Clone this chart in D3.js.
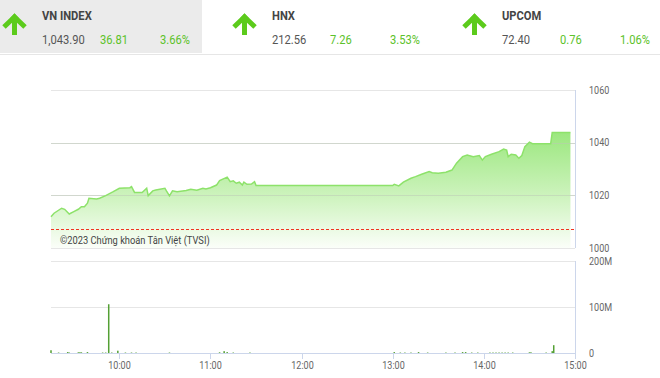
<!DOCTYPE html>
<html>
<head>
<meta charset="utf-8">
<script src="https://cdn.jsdelivr.net/npm/d3@7"></script>
<style>
  body { margin: 0; background: #fff; }
  svg { display: block; font-family: Roboto, sans-serif; }
</style>
</head>
<body>
<script>
// header tiles
const indexNames = ['VN INDEX', 'HNX', 'UPCOM'];
const indexValues = ['1,043.90', '212.56', '72.40'];
const indexChanges = ['36.81', '7.26', '0.76'];
const indexPercents = ['3.66%', '3.53%', '1.06%'];

// intraday VN-Index
const priceTimes = ['9:15', '9:17', '9:22', '9:24', '9:27', '9:30', '9:33', '9:35', '9:37', '9:39',
  '9:40', '9:45', '9:47', '9:51', '9:56', '10:00', '10:07', '10:08', '10:10', '10:15',
  '10:18', '10:19', '10:22', '10:24', '10:30', '10:31', '10:33', '10:35', '10:38', '10:44',
  '10:47', '10:51', '10:55', '10:57', '11:00', '11:04', '11:06', '11:11', '11:13', '11:15',
  '11:17', '11:19', '11:21', '11:22', '11:24', '11:27', '11:29', '11:30',
  '13:00', '13:01', '13:04', '13:07', '13:12', '13:15', '13:19', '13:24', '13:26', '13:30',
  '13:35', '13:39', '13:42', '13:46', '13:49', '13:53', '13:57', '13:59', '14:01', '14:05',
  '14:10', '14:13', '14:15', '14:16', '14:18', '14:21', '14:23', '14:25', '14:27', '14:30',
  '14:32', '14:44', '14:45', '14:57'];
const priceValues = [1011.9, 1013.2, 1015.1, 1014.7, 1012.9, 1013.8, 1014.7, 1015.7, 1015.7, 1017.0,
  1018.9, 1018.6, 1018.9, 1019.9, 1021.4, 1022.7, 1022.9, 1023.3, 1021.1, 1021.1,
  1022.7, 1019.9, 1021.7, 1022.0, 1022.7, 1021.7, 1019.8, 1021.7, 1021.4, 1021.8,
  1022.3, 1021.9, 1022.7, 1022.4, 1022.9, 1023.9, 1025.6, 1026.9, 1025.2, 1025.5,
  1024.6, 1025.0, 1023.9, 1025.0, 1024.2, 1024.3, 1025.2, 1023.7,
  1023.7, 1024.2, 1023.6, 1025.0, 1026.5, 1027.1, 1028.0, 1029.0, 1028.6, 1028.4,
  1028.8, 1029.6, 1032.2, 1034.7, 1035.3, 1034.7, 1035.1, 1033.4, 1034.7, 1035.6,
  1036.6, 1037.6, 1037.2, 1034.7, 1035.6, 1035.3, 1034.1, 1035.1, 1038.5, 1040.2,
  1039.6, 1039.6, 1043.9, 1043.9];
const referencePrice = 1007.09;

// matched volume per minute
const volTimes = ['9:15', '9:20', '9:26', '9:27', '9:33', '9:34', '9:35', '9:39', '9:49', '9:51',
  '9:53', '9:55', '9:59', '10:04', '10:08', '10:11', '10:33', '11:06', '11:09', '11:11',
  '11:15', '11:26', '13:01', '13:05', '13:08', '13:12', '13:17', '13:23', '13:35', '13:41',
  '13:46', '13:48', '13:52', '13:56', '14:04', '14:06', '14:08', '14:10', '14:12', '14:14',
  '14:16', '14:19', '14:30', '14:31', '14:41', '14:45', '14:46'];
const volValues = [6, 1, 2, 1, 1.5, 1.5, 1.5, 2, 1, 1,
  106, 1, 5, 1, 1, 1, 1, 1.5, 4, 2,
  1, 1, 2, 1, 1, 1, 2, 1, 1, 1,
  2, 2, 1, 1, 1, 1, 1, 1, 1, 1,
  1, 1, 1.5, 1.5, 1, 4, 17].map(v => v * 1e6);

const priceTicks = [1000, 1020, 1040, 1060];
const volTicks = [0, 100e6, 200e6];
const volTickLabels = ['0', '100M', '200M'];
const hourTicks = ['10:00', '11:00', '12:00', '13:00', '14:00', '15:00'];

const width = 660, height = 378;
const parse = d3.timeParse('%H:%M');
const SX = 0.86; // narrow the glyphs a little, like a condensed face

const svg = d3.select('body').append('svg')
  .attr('width', width).attr('height', height);

function label(g, x, y, str, o = {}) {
  return g.append('text')
    .attr('transform', `translate(${x},${y}) scale(${o.sx || SX},1)`)
    .attr('dominant-baseline', 'middle')
    .attr('text-anchor', o.anchor || 'start')
    .attr('font-size', o.size || 10)
    .attr('font-weight', o.weight || 'normal')
    .attr('fill', o.fill || '#666')
    .text(str);
}

// ---- header ----
svg.append('rect').attr('x', 0).attr('y', 0).attr('width', 202).attr('height', 53).attr('fill', '#ebebeb');
svg.append('line').attr('x1', 0).attr('x2', width).attr('y1', 54.5).attr('y2', 54.5)
  .attr('stroke', '#e6e6e6');

const green = '#5cc22a';
indexNames.forEach((name, i) => {
  const ox = i * 230;
  const arrow = svg.append('g').attr('transform', `translate(${ox + 14.5},0)`)
    .attr('fill', 'none').attr('stroke', '#5ccb1c').attr('stroke-width', 5);
  arrow.append('path').attr('d', 'M-10.5,27 L0,17 L10.5,27');
  arrow.append('path').attr('d', 'M0,17 V35');
  arrow.append('path').attr('d', 'M-3.5,19.5 L0,15.5 L3.5,19.5').attr('stroke-width', 3);

  label(svg, ox + 42, 16.5, name, { size: 13, weight: 'bold', fill: '#444' });
  label(svg, ox + 42, 41, indexValues[i], { size: 13, fill: '#555' });
  label(svg, ox + 100, 41, indexChanges[i], { size: 13, fill: green });
  label(svg, ox + 160, 41, indexPercents[i], { size: 13, fill: green });
});

// ---- scales ----
const x = d3.scaleTime().domain([parse('9:15'), parse('15:00')]).range([51, 575]);
const y = d3.scaleLinear().domain([1000, 1060]).range([248, 90]);
const yv = d3.scaleLinear().domain([0, 200e6]).range([353, 261]);

const prices = priceTimes.map((t, i) => ({ t: parse(t), v: priceValues[i] }));
const vols = volTimes.map((t, i) => ({ t: parse(t), v: volValues[i] }));

// ---- price panel ----
const grid = svg.append('g');
priceTicks.forEach(v => {
  grid.append('line').attr('x1', 51).attr('x2', 575)
    .attr('y1', Math.round(y(v)) + 0.5).attr('y2', Math.round(y(v)) + 0.5)
    .attr('stroke', '#e6e6e6');
  label(svg, 589, y(v) + 1, String(v), { size: 10.5 });
});

const defs = svg.append('defs');
const grad = defs.append('linearGradient').attr('id', 'fillGrad')
  .attr('gradientUnits', 'userSpaceOnUse')
  .attr('x1', 0).attr('x2', 0).attr('y1', y(1044)).attr('y2', y(1000));
grad.append('stop').attr('offset', '0%').attr('stop-color', '#9be77e');
grad.append('stop').attr('offset', '55%').attr('stop-color', '#cdf3bd');
grad.append('stop').attr('offset', '100%').attr('stop-color', '#fbfef9');

const area = d3.area().x(d => x(d.t)).y0(y(1000)).y1(d => y(d.v));
const line = d3.line().x(d => x(d.t)).y(d => y(d.v));

svg.append('path').datum(prices).attr('d', area).attr('fill', 'url(#fillGrad)');
// redraw gridlines faintly over the fill
priceTicks.slice(1, 3).forEach(v => {
  svg.append('line').attr('x1', 51).attr('x2', 575)
    .attr('y1', Math.round(y(v)) + 0.5).attr('y2', Math.round(y(v)) + 0.5)
    .attr('stroke', '#bcc7b6').attr('stroke-opacity', 0.5);
});
svg.append('path').datum(prices).attr('d', line)
  .attr('fill', 'none').attr('stroke', '#8de26a').attr('stroke-width', 1.5);

svg.append('line').attr('x1', 51).attr('x2', 575)
  .attr('y1', Math.round(y(referencePrice)) + 0.5).attr('y2', Math.round(y(referencePrice)) + 0.5)
  .attr('stroke', '#f2321f').attr('stroke-width', 1.2).attr('stroke-dasharray', '3,2');

svg.append('line').attr('x1', 575.5).attr('x2', 575.5).attr('y1', y(1060)).attr('y2', y(1000))
  .attr('stroke', '#ccd6eb');

label(svg, 60, 241, '©2023 Chứng khoán Tân Việt (TVSI)', { size: 11.5, fill: '#444', sx: 0.81 });

// ---- volume panel ----
volTicks.forEach((v, i) => {
  if (v > 0) {
    svg.append('line').attr('x1', 51).attr('x2', 575)
      .attr('y1', Math.round(yv(v)) + 0.5).attr('y2', Math.round(yv(v)) + 0.5)
      .attr('stroke', '#e6e6e6');
  }
  label(svg, 589, yv(v) + 1, volTickLabels[i], { size: 10.5 });
});

svg.append('g').selectAll('rect').data(vols).enter().append('rect')
  .attr('x', d => x(d.t) - 0.75)
  .attr('width', 1.5)
  .attr('y', d => yv(d.v))
  .attr('height', d => yv(0) - yv(d.v))
  .attr('fill', '#54a034');

svg.append('line').attr('x1', 51).attr('x2', 576).attr('y1', 353.5).attr('y2', 353.5)
  .attr('stroke', '#ccd6eb');
svg.append('line').attr('x1', 575.5).attr('x2', 575.5).attr('y1', yv(200e6)).attr('y2', 353)
  .attr('stroke', '#ccd6eb');

hourTicks.forEach(h => {
  const px = Math.round(x(parse(h))) + 0.5;
  svg.append('line').attr('x1', px).attr('x2', px).attr('y1', 353).attr('y2', 359)
    .attr('stroke', '#ccd6eb');
  label(svg, px, 366.5, h, { size: 10.5, anchor: 'middle' });
});
</script>
</body>
</html>
